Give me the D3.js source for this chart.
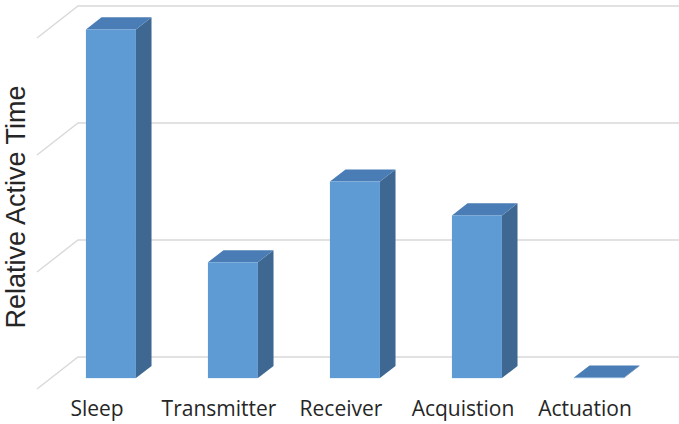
<!DOCTYPE html>
<html>
<head>
<meta charset="utf-8">
<script src="https://cdn.jsdelivr.net/npm/d3@7"></script>
<style>
  body { margin: 0; background: #fff; }
  svg { display: block; }
</style>
</head>
<body>
<svg id="chart" width="679" height="424"></svg>
<script>
const categories = ['Sleep', 'Transmitter', 'Receiver', 'Acquistion', 'Actuation'];
const values = [2.98, 0.99, 1.68, 1.39, 0.005];
const gridTicks = [0, 1, 2, 3];

const W = 679, H = 424;
// oblique offset for going from the front of the floor to the back wall
const depthX = 41, depthY = -32;
const barZ0 = 0.34, barZ1 = 0.72;

const svg = d3.select('#chart');

const x = d3.scaleBand()
  .domain(categories)
  .range([36, 646])
  .paddingInner(0.59)
  .paddingOuter(0.295);

// value scale on the front plane (z = 0)
const y = d3.scaleLinear().domain([0, 3]).range([389, 38]);

const pt = (px, v, z) => [px + z * depthX, y(v) + z * depthY];
const poly = pts => 'M' + pts.map(p => p.join(',')).join('L') + 'Z';

// gridlines: diagonal on the side wall, then across the back wall
const grid = svg.append('g')
  .attr('fill', 'none')
  .attr('stroke', '#d9d9d9')
  .attr('stroke-width', 1.4);

gridTicks.forEach(t => {
  const a = pt(37, t, 0), b = pt(37, t, 1);
  grid.append('path')
    .attr('d', `M${a[0]},${a[1]}L${b[0]},${b[1]}L${W},${b[1]}`);
});

// bars
const bars = svg.append('g');
categories.forEach((c, i) => {
  const x0 = x(c), x1 = x(c) + x.bandwidth();
  const v = values[i];
  const g = bars.append('g');

  // right side face
  g.append('path')
    .attr('fill', '#3e6891')
    .attr('d', poly([pt(x1, 0, barZ0), pt(x1, 0, barZ1), pt(x1, v, barZ1), pt(x1, v, barZ0)]));

  // top face
  g.append('path')
    .attr('fill', '#4a7db5')
    .attr('d', poly([pt(x0, v, barZ0), pt(x0, v, barZ1), pt(x1, v, barZ1), pt(x1, v, barZ0)]));

  // front face
  const f0 = pt(x0, v, barZ0), f1 = pt(x1, 0, barZ0);
  g.append('rect')
    .attr('x', f0[0])
    .attr('y', f0[1])
    .attr('width', f1[0] - f0[0])
    .attr('height', Math.max(0, f1[1] - f0[1]))
    .attr('fill', '#5e9bd4');
});

// category labels
svg.append('g')
  .selectAll('text')
  .data(categories)
  .join('text')
  .attr('x', d => x(d) + x.bandwidth() / 2)
  .attr('y', 416)
  .attr('text-anchor', 'middle')
  .attr('font-family', 'Open Sans, sans-serif')
  .attr('font-size', 21)
  .attr('fill', '#262626')
  .text(d => d);

// y axis title
svg.append('text')
  .attr('transform', 'translate(25,207) rotate(-90)')
  .attr('text-anchor', 'middle')
  .attr('font-family', 'Liberation Sans, Arial, sans-serif')
  .attr('font-size', 27)
  .attr('fill', '#262626')
  .text('Relative Active Time');
</script>
</body>
</html>
